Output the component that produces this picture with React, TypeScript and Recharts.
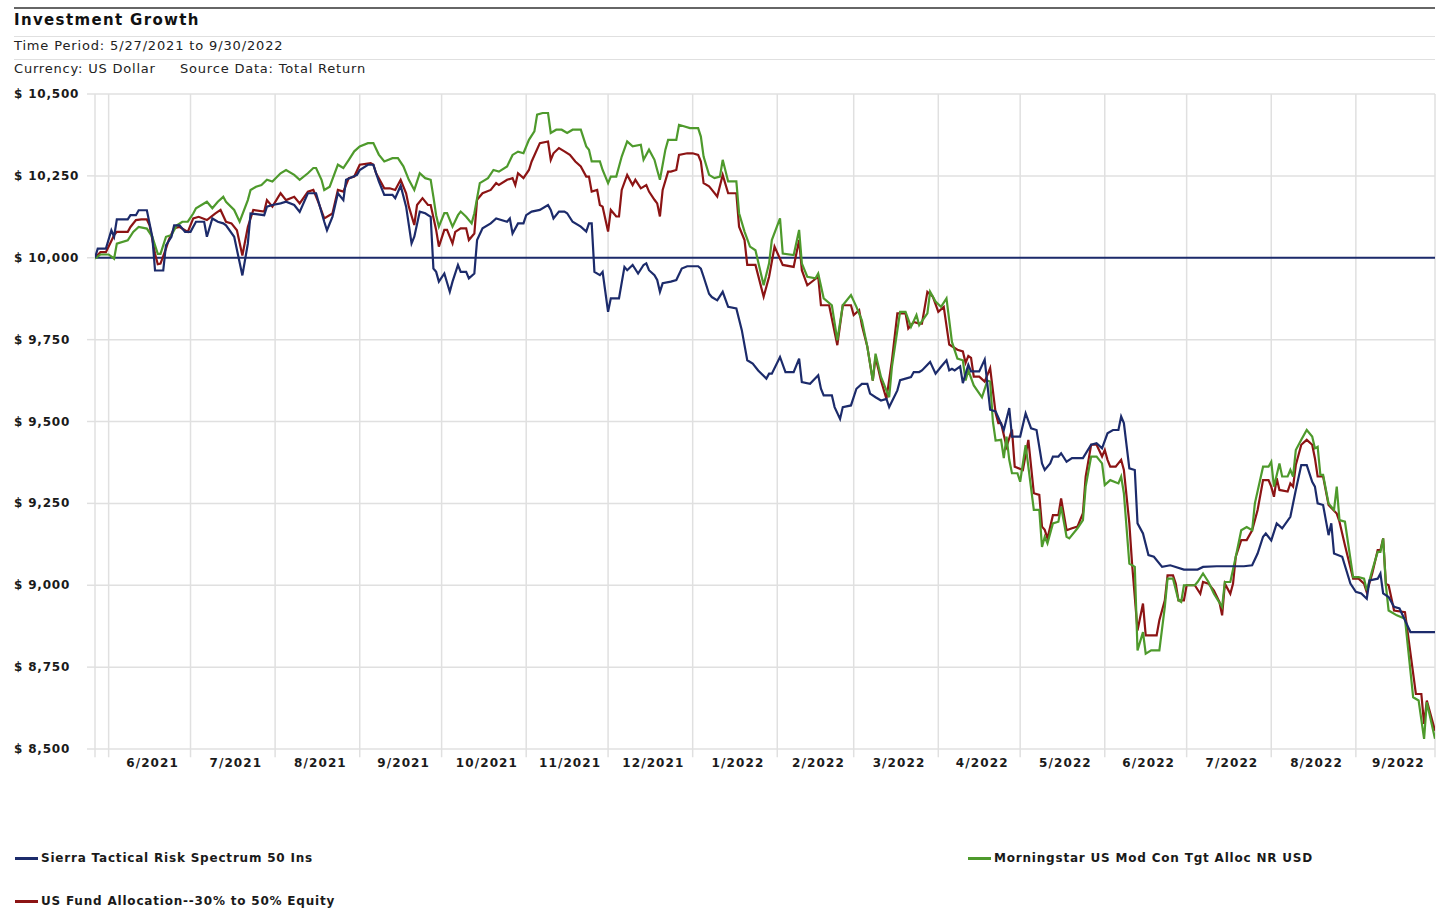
import React from "react";
import {
  LineChart,
  Line,
  XAxis,
  YAxis,
  CartesianGrid,
  ReferenceLine,
} from "recharts";

// day offsets are counted from 5/27/2021
const monthStarts = [0, 5, 35, 66, 97, 127, 158, 188, 219, 250, 278, 309, 339, 370, 400, 431, 462, 491];
const monthLabels = [
  "6/2021", "7/2021", "8/2021", "9/2021", "10/2021", "11/2021", "12/2021",
  "1/2022", "2/2022", "3/2022", "4/2022", "5/2022", "6/2022", "7/2022", "8/2022", "9/2022",
];
const yTicks = [8500, 8750, 9000, 9250, 9500, 9750, 10000, 10250, 10500];

const sierra: [number, number][] = [
  [0, 10000], [1, 10028], [4, 10028], [6, 10084], [7, 10064], [8, 10117], [12, 10117], [13, 10130], [15, 10130], [16, 10145],
  [19, 10145], [21, 10064], [22, 9961], [25, 9961], [26, 10038], [28, 10064], [29, 10099], [31, 10099], [33, 10079], [35, 10079],
  [37, 10110], [40, 10110], [41, 10064], [43, 10120], [45, 10110], [47, 10105], [48, 10099], [51, 10064], [54, 9946], [56, 10043],
  [57, 10135], [62, 10130], [63, 10156], [65, 10161], [68, 10166], [70, 10171], [73, 10161], [75, 10140], [78, 10197], [81, 10197],
  [84, 10110], [85, 10084], [87, 10125], [89, 10197], [91, 10176], [92, 10238], [96, 10253], [97, 10268], [100, 10284], [102, 10284],
  [103, 10258], [104, 10233], [106, 10192], [109, 10192], [110, 10182], [112, 10220], [114, 10156], [116, 10044], [117, 10064], [119, 10141],
  [121, 10136], [123, 10125], [124, 9967], [125, 9957], [126, 9927], [128, 9952], [130, 9896], [131, 9927], [133, 9978], [134, 9957],
  [136, 9957], [137, 9937], [139, 9952], [140, 10054], [142, 10090], [145, 10105], [147, 10120], [151, 10110], [152, 10120], [153, 10074],
  [155, 10105], [157, 10105], [158, 10130], [160, 10141], [163, 10146], [166, 10161], [167, 10146], [168, 10120], [170, 10141], [172, 10141],
  [173, 10136], [175, 10110], [178, 10095], [180, 10080], [181, 10105], [182, 10105], [183, 9957], [185, 9947], [186, 9957], [188, 9835],
  [189, 9876], [192, 9876], [194, 9972], [195, 9962], [197, 9978], [199, 9952], [201, 9978], [202, 9983], [203, 9962], [205, 9947],
  [206, 9932], [207, 9896], [208, 9922], [211, 9927], [213, 9932], [215, 9967], [217, 9974], [221, 9974], [222, 9967], [223, 9942],
  [224, 9916], [225, 9890], [226, 9880], [228, 9870], [230, 9896], [232, 9850], [235, 9845], [237, 9779], [239, 9687], [241, 9677],
  [243, 9656], [246, 9631], [247, 9646], [248, 9646], [251, 9697], [253, 9651], [256, 9651], [258, 9692], [259, 9620], [262, 9615],
  [265, 9641], [266, 9600], [267, 9580], [270, 9580], [271, 9544], [273, 9508], [274, 9544], [277, 9549], [279, 9600], [281, 9615],
  [283, 9615], [284, 9585], [286, 9574], [288, 9564], [290, 9569], [291, 9544], [294, 9595], [295, 9626], [297, 9631], [299, 9636],
  [300, 9651], [302, 9651], [303, 9656], [306, 9682], [308, 9646], [310, 9667], [312, 9687], [313, 9656], [314, 9661], [315, 9656],
  [317, 9668], [318, 9617], [320, 9673], [321, 9653], [324, 9653], [326, 9689], [328, 9536], [330, 9531], [333, 9474], [335, 9541],
  [336, 9454], [339, 9454], [341, 9525], [343, 9479], [345, 9474], [347, 9372], [348, 9352], [350, 9372], [351, 9393], [353, 9393],
  [354, 9403], [356, 9377], [358, 9388], [362, 9388], [365, 9429], [367, 9434], [369, 9418], [371, 9464], [373, 9474], [375, 9474],
  [376, 9515], [377, 9495], [379, 9357], [381, 9352], [382, 9189], [384, 9158], [386, 9092], [388, 9087], [391, 9056], [394, 9061],
  [399, 9048], [404, 9048], [406, 9056], [411, 9058], [416, 9058], [421, 9058], [424, 9061], [426, 9097], [428, 9148], [429, 9158],
  [431, 9137], [433, 9189], [435, 9174], [438, 9209], [440, 9291], [442, 9367], [444, 9367], [446, 9316], [447, 9301], [448, 9250],
  [450, 9245], [452, 9153], [453, 9189], [454, 9097], [457, 9087], [460, 9005], [462, 8980], [464, 8975], [466, 8959], [467, 9015],
  [470, 9020], [471, 9036], [472, 8975], [474, 8964], [476, 8934], [478, 8929], [480, 8893], [482, 8857], [491, 8857],
];

const fundAlloc: [number, number][] = [
  [0, 10000], [2, 10017], [4, 10017], [7, 10069], [8, 10079], [12, 10079], [13, 10094], [15, 10115], [17, 10117], [19, 10117],
  [20, 10099], [22, 10012], [23, 9980], [24, 9982], [26, 10028], [27, 10054], [29, 10090], [31, 10094], [34, 10079], [36, 10120],
  [38, 10125], [41, 10115], [44, 10135], [46, 10146], [48, 10110], [50, 10105], [52, 10084], [54, 10007], [56, 10094], [58, 10146],
  [62, 10141], [63, 10176], [65, 10156], [68, 10197], [70, 10176], [73, 10186], [75, 10166], [78, 10202], [80, 10207], [82, 10166],
  [84, 10120], [87, 10135], [89, 10207], [91, 10202], [93, 10243], [95, 10248], [97, 10284], [101, 10289], [102, 10284], [103, 10258],
  [106, 10212], [108, 10212], [110, 10207], [112, 10238], [114, 10197], [115, 10156], [117, 10100], [118, 10161], [120, 10182], [122, 10161],
  [123, 10161], [125, 10085], [126, 10034], [128, 10085], [129, 10085], [131, 10044], [132, 10079], [134, 10090], [136, 10090], [137, 10054],
  [139, 10074], [140, 10177], [142, 10197], [145, 10207], [147, 10228], [148, 10222], [151, 10238], [153, 10243], [154, 10222], [155, 10258],
  [157, 10243], [159, 10268], [160, 10294], [163, 10350], [166, 10355], [167, 10299], [168, 10319], [170, 10335], [172, 10325], [174, 10314],
  [176, 10294], [178, 10279], [180, 10248], [181, 10248], [182, 10202], [184, 10207], [185, 10161], [186, 10156], [188, 10080], [189, 10146],
  [191, 10126], [192, 10126], [193, 10207], [195, 10253], [197, 10222], [198, 10238], [200, 10212], [202, 10222], [203, 10202], [205, 10177],
  [206, 10166], [207, 10126], [208, 10207], [210, 10263], [211, 10263], [213, 10268], [214, 10314], [217, 10319], [219, 10319], [221, 10314],
  [222, 10294], [223, 10228], [225, 10218], [226, 10208], [228, 10187], [230, 10253], [232, 10197], [235, 10197], [236, 10095], [238, 10054],
  [239, 9978], [242, 9978], [245, 9881], [247, 9942], [249, 10034], [252, 9978], [256, 9972], [258, 10054], [259, 9962], [261, 9916],
  [265, 9942], [266, 9855], [269, 9855], [272, 9733], [274, 9855], [277, 9855], [278, 9825], [280, 9840], [281, 9794], [283, 9728],
  [285, 9625], [286, 9697], [288, 9625], [290, 9569], [292, 9686], [294, 9830], [297, 9830], [298, 9784], [300, 9804], [302, 9799],
  [303, 9799], [305, 9896], [307, 9881], [309, 9835], [311, 9850], [313, 9735], [316, 9719], [318, 9714], [319, 9679], [320, 9700],
  [321, 9694], [322, 9637], [324, 9637], [326, 9622], [328, 9663], [330, 9526], [331, 9495], [332, 9495], [334, 9423], [336, 9475],
  [337, 9362], [340, 9352], [342, 9444], [344, 9281], [346, 9276], [347, 9179], [348, 9169], [349, 9143], [351, 9214], [353, 9214],
  [354, 9265], [356, 9168], [358, 9174], [360, 9179], [362, 9220], [363, 9332], [365, 9429], [367, 9429], [369, 9393], [370, 9413],
  [371, 9383], [372, 9362], [374, 9362], [376, 9383], [377, 9352], [379, 9189], [380, 9066], [382, 8862], [384, 8944], [385, 8847],
  [389, 8847], [390, 8893], [392, 8954], [393, 9030], [395, 9030], [396, 9005], [397, 8954], [399, 8954], [400, 9000], [403, 9000],
  [405, 8974], [406, 9010], [408, 9005], [410, 8984], [412, 8949], [413, 8908], [414, 9005], [416, 8974], [417, 9005], [418, 9087],
  [420, 9138], [422, 9138], [424, 9168], [426, 9230], [428, 9321], [430, 9321], [431, 9301], [432, 9270], [433, 9327], [434, 9291],
  [437, 9286], [438, 9311], [439, 9301], [440, 9367], [442, 9429], [444, 9444], [446, 9429], [447, 9388], [448, 9332], [450, 9332],
  [452, 9245], [455, 9219], [456, 9194], [458, 9122], [461, 9020], [463, 9020], [465, 9005], [466, 8979], [468, 9036], [470, 9107],
  [471, 9107], [472, 9143], [473, 9005], [474, 9000], [476, 8923], [480, 8918], [484, 8668], [486, 8668], [487, 8577], [488, 8648],
  [491, 8556],
];

const morningstar: [number, number][] = [
  [0, 9997], [2, 10010], [5, 10010], [7, 9997], [8, 10043], [12, 10053], [14, 10079], [16, 10094], [19, 10089], [21, 10064],
  [23, 10012], [24, 10012], [26, 10064], [28, 10069], [30, 10099], [32, 10110], [34, 10110], [36, 10135], [37, 10151], [41, 10171],
  [43, 10151], [45, 10171], [47, 10186], [48, 10171], [51, 10146], [53, 10110], [56, 10176], [57, 10207], [59, 10217], [61, 10222],
  [63, 10238], [65, 10233], [68, 10258], [70, 10268], [73, 10253], [75, 10238], [78, 10258], [80, 10274], [81, 10274], [83, 10238],
  [84, 10207], [86, 10217], [89, 10284], [91, 10274], [93, 10299], [95, 10325], [97, 10340], [100, 10350], [102, 10350], [104, 10315],
  [106, 10294], [109, 10304], [111, 10304], [113, 10279], [115, 10238], [117, 10207], [119, 10258], [121, 10243], [123, 10238], [124, 10186],
  [125, 10130], [126, 10095], [128, 10136], [129, 10136], [131, 10095], [133, 10130], [134, 10141], [136, 10125], [138, 10105], [139, 10136],
  [141, 10228], [144, 10243], [146, 10268], [148, 10263], [151, 10279], [153, 10314], [155, 10324], [157, 10319], [159, 10360], [161, 10386],
  [162, 10437], [164, 10442], [166, 10442], [167, 10381], [169, 10391], [171, 10391], [173, 10381], [175, 10391], [178, 10391], [180, 10340],
  [181, 10330], [182, 10294], [185, 10294], [186, 10268], [188, 10228], [189, 10248], [191, 10248], [193, 10309], [195, 10355], [197, 10340],
  [200, 10345], [201, 10299], [203, 10330], [205, 10299], [206, 10268], [207, 10238], [209, 10330], [210, 10360], [213, 10360], [214, 10406],
  [218, 10396], [221, 10396], [222, 10370], [223, 10309], [225, 10253], [227, 10243], [229, 10248], [230, 10299], [232, 10233], [235, 10233],
  [236, 10136], [238, 10080], [240, 10034], [242, 10023], [244, 9952], [245, 9916], [247, 9983], [248, 10054], [251, 10120], [252, 10013],
  [256, 10008], [258, 10085], [259, 9983], [261, 9942], [264, 9937], [265, 9952], [267, 9876], [270, 9855], [272, 9748], [274, 9855],
  [277, 9886], [279, 9850], [281, 9809], [283, 9728], [285, 9625], [286, 9707], [288, 9636], [291, 9574], [292, 9666], [295, 9835],
  [297, 9835], [299, 9789], [301, 9825], [302, 9794], [305, 9830], [306, 9896], [308, 9866], [310, 9850], [312, 9876], [314, 9743],
  [316, 9692], [318, 9687], [319, 9625], [320, 9656], [322, 9610], [325, 9574], [327, 9625], [328, 9622], [329, 9500], [330, 9442],
  [332, 9444], [333, 9388], [334, 9454], [335, 9383], [336, 9342], [338, 9342], [339, 9316], [341, 9428], [344, 9230], [346, 9230],
  [347, 9117], [348, 9148], [349, 9128], [351, 9189], [353, 9194], [354, 9240], [356, 9148], [357, 9143], [360, 9174], [362, 9199],
  [363, 9301], [365, 9393], [367, 9393], [369, 9372], [370, 9306], [372, 9321], [375, 9311], [376, 9332], [377, 9281], [379, 9066],
  [381, 9056], [382, 8801], [384, 8857], [385, 8791], [387, 8801], [390, 8801], [392, 8934], [393, 9020], [395, 9020], [397, 8954],
  [398, 8949], [399, 9000], [403, 9000], [404, 9010], [406, 9036], [408, 9010], [410, 8974], [413, 8934], [414, 9010], [416, 9010],
  [418, 9087], [420, 9168], [422, 9178], [424, 9168], [425, 9250], [428, 9362], [430, 9362], [431, 9377], [432, 9301], [434, 9372],
  [435, 9332], [437, 9332], [438, 9352], [439, 9332], [440, 9413], [442, 9444], [444, 9474], [446, 9454], [447, 9418], [448, 9423],
  [449, 9337], [450, 9337], [452, 9250], [454, 9230], [455, 9301], [456, 9199], [458, 9194], [461, 9025], [463, 9025], [465, 9020],
  [466, 8984], [468, 9046], [470, 9102], [471, 9102], [472, 9143], [473, 9000], [474, 8923], [477, 8908], [480, 8898], [483, 8658],
  [485, 8648], [487, 8531], [488, 8643], [491, 8531],
];

const FONT = '"DejaVu Sans", Verdana, sans-serif';
const BLUE = "#1c2b6b";
const RED = "#8c1414";
const GREEN = "#4e9a2c";
const GRID = "#e0e0e0";

const toPoints = (rows: [number, number][]) => rows.map(([day, value]) => ({ day, value }));

// label ticks sit in the middle of each month
const labelDays = monthLabels.map((_, i) => (monthStarts[i + 1] + monthStarts[i + 2]) / 2);
const labelFor = (day: number) => monthLabels[labelDays.indexOf(day)] ?? "";
const money = (v: number) => `$ ${v.toLocaleString("en-US")}`;

const YTick = (props: any) => {
  const { y, payload } = props;
  return (
    <text x={14} y={y} dy={4} fontSize={12} letterSpacing={0.8} fontWeight="bold" fill="#1a1a1a" fontFamily={FONT}>
      {money(payload.value)}
    </text>
  );
};

const XTick = (props: any) => {
  const { x, y, payload } = props;
  return (
    <text x={x + 3} y={y} dy={11} textAnchor="middle" fontSize={12} letterSpacing={1.1} fontWeight="bold" fill="#1a1a1a" fontFamily={FONT}>
      {labelFor(payload.value)}
    </text>
  );
};

const LegendItem = ({ color, label, left, top }: { color: string; label: string; left: number; top: number }) => (
  <div style={{ position: "absolute", left, top, display: "flex", alignItems: "center" }}>
    <div style={{ width: 23, height: 3, background: color, marginRight: 3 }} />
    <span style={{ fontSize: 12, letterSpacing: 0.8, fontWeight: "bold", color: "#1a1a1a", fontFamily: FONT }}>{label}</span>
  </div>
);

export default function App() {
  return (
    <div style={{ position: "absolute", left: 0, top: 0, width: 1440, height: 909, background: "#fff", fontFamily: FONT }}>
      <div style={{ position: "absolute", left: 14, top: 7, width: 1421, height: 2, background: "#666" }} />
      <div style={{ position: "absolute", left: 14, top: 11, fontSize: 15, letterSpacing: 1.35, fontWeight: "bold", color: "#111" }}>
        Investment Growth
      </div>
      <div style={{ position: "absolute", left: 14, top: 36, width: 1421, height: 1, background: GRID }} />
      <div style={{ position: "absolute", left: 14, top: 38, fontSize: 13, letterSpacing: 0.85, color: "#222" }}>
        Time Period: 5/27/2021 to 9/30/2022
      </div>
      <div style={{ position: "absolute", left: 14, top: 59, width: 1421, height: 1, background: GRID }} />
      <div style={{ position: "absolute", left: 14, top: 61, fontSize: 13, letterSpacing: 0.8, color: "#222" }}>Currency: US Dollar</div>
      <div style={{ position: "absolute", left: 180, top: 61, fontSize: 13, letterSpacing: 0.8, color: "#222" }}>Source Data: Total Return</div>

      <div style={{ position: "absolute", left: 0, top: 0 }}>
        <LineChart width={1440} height={780} margin={{ top: 94, right: 5, left: 15, bottom: 0 }}>
          <CartesianGrid stroke={GRID} strokeWidth={1.5} vertical={false} horizontalValues={yTicks} />
          {monthStarts.map((d) => (
            <ReferenceLine
              key={d}
              segment={[{ x: d, y: 8475 }, { x: d, y: 10500 }]}
              stroke={GRID}
              strokeWidth={1.5}
              ifOverflow="visible"
            />
          ))}
          <XAxis
            dataKey="day"
            type="number"
            domain={[0, 491]}
            ticks={labelDays}
            interval={0}
            tick={<XTick />}
            tickLine={false}
            axisLine={false}
            tickSize={0}
            tickMargin={7}
            height={31}
            allowDataOverflow
          />
          <YAxis
            type="number"
            domain={[8500, 10500]}
            ticks={yTicks}
            width={80}
            tickSize={8}
            tickLine={{ stroke: GRID, strokeWidth: 1.5 }}
            axisLine={false}
            tick={<YTick />}
            interval={0}
            allowDataOverflow
          />
          <ReferenceLine y={10000} stroke={BLUE} strokeWidth={2} />
          <Line
            data={toPoints(fundAlloc)}
            dataKey="value"
            type="linear"
            stroke={RED}
            strokeWidth={2.2}
            dot={false}
            isAnimationActive={false}
          />
          <Line
            data={toPoints(morningstar)}
            dataKey="value"
            type="linear"
            stroke={GREEN}
            strokeWidth={2.2}
            dot={false}
            isAnimationActive={false}
          />
          <Line
            data={toPoints(sierra)}
            dataKey="value"
            type="linear"
            stroke={BLUE}
            strokeWidth={2.2}
            dot={false}
            isAnimationActive={false}
          />
        </LineChart>
      </div>

      <LegendItem color={BLUE} label="Sierra Tactical Risk Spectrum 50 Ins" left={15} top={851} />
      <LegendItem color={GREEN} label="Morningstar US Mod Con Tgt Alloc NR USD" left={968} top={851} />
      <LegendItem color={RED} label="US Fund Allocation--30% to 50% Equity" left={15} top={894} />
    </div>
  );
}
